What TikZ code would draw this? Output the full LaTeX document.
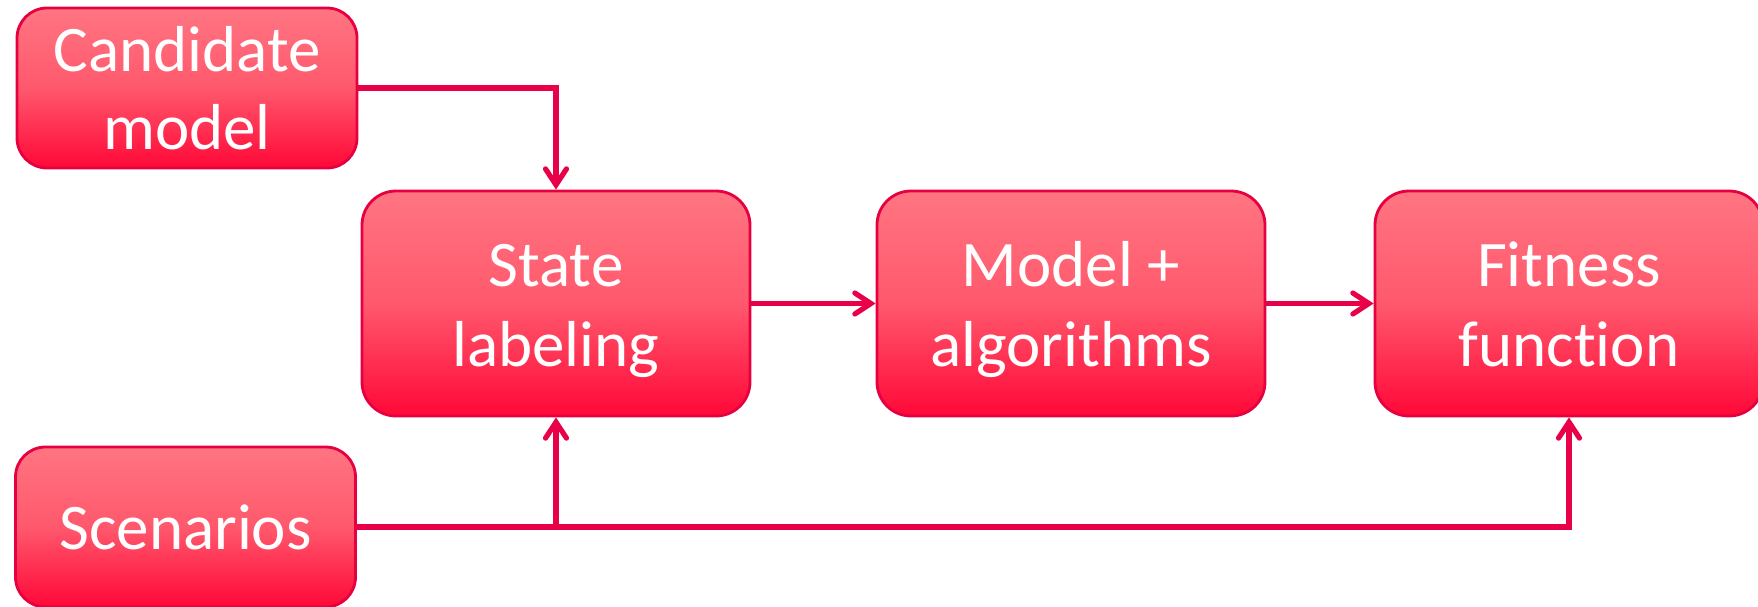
\documentclass[tikz,border=0pt]{standalone}
\usepackage{fontspec}
\setmainfont{Carlito}[Ligatures={NoCommon}]
\usetikzlibrary{arrows.meta}
\definecolor{boxtop}{RGB}{255,117,130}
\definecolor{boxmid}{RGB}{255,88,108}
\definecolor{boxbot}{RGB}{255,8,56}
\definecolor{edge}{RGB}{230,0,64}
\definecolor{wire}{RGB}{232,0,72}
\tikzset{
  block/.style={draw=edge, line width=1.4pt, rounded corners=17pt,
    top color=boxtop, bottom color=boxbot, middle color=boxmid,
    text=white, align=center, inner sep=0pt,
    font=\fontsize{32.5pt}{39pt}\selectfont},
  smallblock/.style={block, minimum width=170pt, minimum height=80pt, rounded corners=15pt},
  bigblock/.style={block, minimum width=194pt, minimum height=112.5pt,
    font=\fontsize{32.5pt}{40pt}\selectfont, text height=71pt, text depth=8.5pt},
  conn/.style={draw=wire, line width=2.6pt,
    -{Straight Barb[length=8pt,width=10.5pt,line width=2.6pt,line cap=round]}}
}
\begin{document}
\begin{tikzpicture}[x=0.5pt,y=-0.5pt]
  \useasboundingbox (0,0) rectangle (1758,606);
  \clip (0,0) rectangle (1758,606);
  % input blocks
  \node[smallblock] (cand) at (187,88) {Candidate\\model};
  \node[smallblock] (scen) at (185.5,527) {Scenarios};
  % processing chain
  \node[bigblock] (state) at (556,303.5) {State\\labeling};
  \node[bigblock] (model) at (1071,303.5) {Model +\\algorithms};
  \node[bigblock] (fit) at (1569,303.5) {Fitness\\function};
  % connectors
  \draw[conn] (cand.east) -| (state.north);
  \draw[conn] (state.east) -- (model.west);
  \draw[conn] (model.east) -- (fit.west);
  \draw[conn] (scen.east) -| (state.south);
  \draw[conn] (scen.east) -| (fit.south);
\end{tikzpicture}
\end{document}
